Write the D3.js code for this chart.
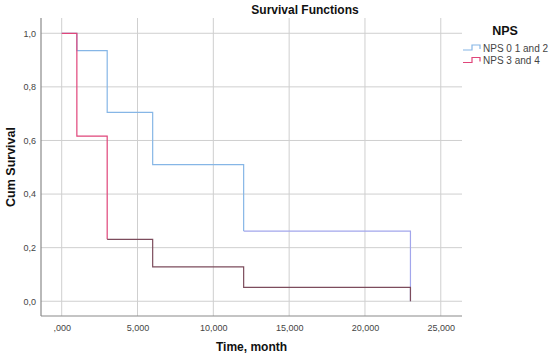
<!DOCTYPE html>
<html>
<head>
<meta charset="utf-8">
<script src="https://cdn.jsdelivr.net/npm/d3@7"></script>
<style>
  body { margin: 0; background: #fff; }
  text { font-family: Arial, "Liberation Sans", sans-serif; }
</style>
</head>
<body>
<div class="d3"></div>
<script>
// step data
const seriesNames = ['NPS 0 1 and 2', 'NPS 3 and 4'];
const blueTimes = [0, 1000, 3000, 6000, 12000, 23000];
const blueSurv = [1.0, 0.935, 0.705, 0.51, 0.262, 0.0];
const redTimes = [0, 1000, 3000, 6000, 12000, 23000];
const redSurv = [1.0, 0.616, 0.231, 0.128, 0.052, 0.0];
const xTicks = [0, 5000, 10000, 15000, 20000, 25000];
const yTicks = [0, 0.2, 0.4, 0.6, 0.8, 1.0];

let width = 550;
let height = 356;
let margin = { left: 41, right: 88, top: 18, bottom: 40 };

let svg = d3.select('.d3').append('svg')
  .attr('width', width)
  .attr('height', height);

let x = d3.scaleLinear().domain([-1365, 26400]).range([margin.left, width - margin.right]);
let y = d3.scaleLinear().domain([-0.055, 1.057]).range([height - margin.bottom, margin.top]);

let fmtX = d => d === 0 ? ',000' : d3.format(',.3f')(d / 1000).replace('.', ',');
let fmtY = d => d3.format('.1f')(d).replace('.', ',');

// grid
svg.append('g').selectAll('line').data(xTicks).enter().append('line')
  .attr('x1', d => x(d)).attr('x2', d => x(d))
  .attr('y1', margin.top).attr('y2', height - margin.bottom)
  .attr('stroke', '#cfcfcf').attr('stroke-width', 1);
svg.append('g').selectAll('line').data(yTicks).enter().append('line')
  .attr('x1', margin.left).attr('x2', width - margin.right)
  .attr('y1', d => y(d)).attr('y2', d => y(d))
  .attr('stroke', '#cfcfcf').attr('stroke-width', 1);

// axes
let xAxis = svg.append('g')
  .attr('transform', `translate(0,${height - margin.bottom})`)
  .call(d3.axisBottom(x).tickValues(xTicks).tickFormat(fmtX).tickSize(0).tickPadding(9));
let yAxis = svg.append('g')
  .attr('transform', `translate(${margin.left},0)`)
  .call(d3.axisLeft(y).tickValues(yTicks).tickFormat(fmtY).tickSize(0).tickPadding(5));
[xAxis, yAxis].forEach(a => {
  a.select('.domain').attr('stroke', '#8a8a8a').attr('stroke-width', 1.2);
  a.selectAll('text').attr('font-size', 9).attr('fill', '#444')
    .style('font-family', 'Arial, "Liberation Sans", sans-serif');
});
xAxis.select('.domain').attr('d', `M${margin.left},0H${width - margin.right}`);
yAxis.select('.domain').attr('d', `M0,${margin.top}V${height - margin.bottom}`);

// survival steps
function stepPoints(times, surv) {
  let pts = [];
  times.forEach((t, i) => {
    if (i > 0) pts.push([t, surv[i - 1]]);
    pts.push([t, surv[i]]);
  });
  return pts;
}
let line = d3.line().x(d => x(d[0])).y(d => y(d[1]));

let series = [
  { times: blueTimes, surv: blueSurv, color: '#86b6e6', tail: '#a2a6ec', split: 4 },
  { times: redTimes, surv: redSurv, color: '#e0457a', tail: '#7c4c5c', split: 2 }
];

series.forEach(s => {
  let pts = stepPoints(s.times, s.surv);
  let cut = 2 * s.split + 1;
  svg.append('path').datum(pts.slice(0, cut))
    .attr('fill', 'none').attr('stroke', s.color).attr('stroke-width', 1.2).attr('d', line);
  svg.append('path').datum(pts.slice(cut - 1))
    .attr('fill', 'none').attr('stroke', s.tail).attr('stroke-width', 1.2).attr('d', line);
});

// titles
svg.append('text').attr('x', 305).attr('y', 14).attr('text-anchor', 'middle')
  .attr('font-size', 12).attr('font-weight', 'bold').attr('fill', '#111').text('Survival Functions');
svg.append('text').attr('x', (margin.left + width - margin.right) / 2).attr('y', 351)
  .attr('text-anchor', 'middle').attr('font-size', 12).attr('font-weight', 'bold').attr('fill', '#111')
  .text('Time, month');
svg.append('text').attr('transform', `translate(15,${(margin.top + height - margin.bottom) / 2}) rotate(-90)`)
  .attr('text-anchor', 'middle').attr('font-size', 12.5).attr('font-weight', 'bold').attr('fill', '#111')
  .text('Cum Survival');

// legend
let legend = svg.append('g').attr('transform', 'translate(463,0)');
legend.append('text').attr('x', 42).attr('y', 35).attr('text-anchor', 'middle')
  .attr('font-size', 12.5).attr('font-weight', 'bold').attr('fill', '#111').text('NPS');
series.forEach((s, i) => {
  let yy = 48 + i * 12.5;
  legend.append('path')
    .attr('d', `M0,${yy + 2}H9V${yy - 3}H17V${yy + 1}`)
    .attr('fill', 'none').attr('stroke', s.color).attr('stroke-width', 1.2);
  legend.append('text').attr('x', 20).attr('y', yy + 3.5)
    .attr('font-size', 10).attr('fill', '#444').text(seriesNames[i]);
});
</script>
</body>
</html>
